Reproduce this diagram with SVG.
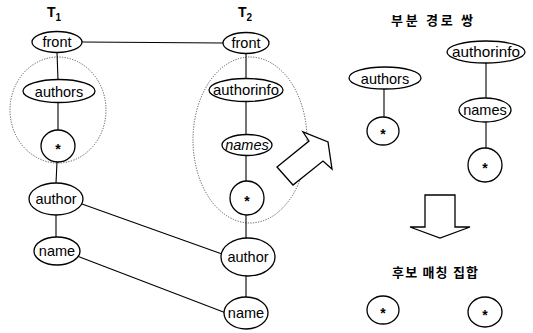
<svg xmlns="http://www.w3.org/2000/svg" width="533" height="333" viewBox="0 0 533 333">
<style>
.n{fill:#fff;stroke:#000;stroke-width:1.3}
.t{font-family:"Liberation Sans",Arial,sans-serif;font-size:14.5px;fill:#000;text-anchor:middle}
.s{font-family:"Liberation Sans",Arial,sans-serif;font-size:14px;font-weight:bold;fill:#000;text-anchor:middle}
.k{font-family:"Noto Sans CJK KR",sans-serif;font-size:13px;font-weight:bold;fill:#000;text-anchor:middle}
.c line{stroke:#000;stroke-width:1.1}
.d{fill:none;stroke:#555;stroke-width:1;stroke-dasharray:1.2 1.4}
.b{fill:#fff;stroke:#000;stroke-width:1.3;stroke-linejoin:miter}
</style>
<rect width="533" height="333" fill="#fff"/>
<g id="labels">
<text x="54" y="17" font-family="Liberation Sans,Arial,sans-serif" font-size="14" font-weight="bold" text-anchor="middle">T<tspan font-size="10" dy="4">1</tspan></text>
<text x="245" y="17" font-family="Liberation Sans,Arial,sans-serif" font-size="14" font-weight="bold" text-anchor="middle">T<tspan font-size="10" dy="4">2</tspan></text>
<text class="k" x="432" y="25" textLength="82" lengthAdjust="spacing">부분 경로 쌍</text>
<text class="k" x="435" y="277" textLength="86" lengthAdjust="spacing">후보 매칭 집합</text>
</g>
<g id="groups">
<ellipse class="d" cx="58" cy="110" rx="48" ry="53"/>
<ellipse class="d" cx="250" cy="140" rx="57" ry="83"/>
</g>
<g class="c" id="connectors">
<line x1="82" y1="42" x2="223" y2="43"/>
<line x1="57" y1="52" x2="58" y2="80"/>
<line x1="58" y1="102" x2="58" y2="130"/>
<line x1="57" y1="162" x2="56" y2="183"/>
<line x1="56" y1="215" x2="56" y2="237"/>
<line x1="82" y1="204" x2="222" y2="254"/>
<line x1="77" y1="256" x2="226" y2="313"/>
<line x1="246" y1="53" x2="246" y2="79"/>
<line x1="246" y1="101" x2="246" y2="135"/>
<line x1="246" y1="155" x2="246" y2="181"/>
<line x1="246" y1="215" x2="246" y2="238"/>
<line x1="246" y1="276" x2="246" y2="297"/>
<line x1="384" y1="89" x2="384" y2="117"/>
<line x1="486" y1="63" x2="486" y2="98"/>
<line x1="486" y1="122" x2="486" y2="148"/>
</g>
<g id="t1-front"><ellipse class="n" cx="57" cy="42" rx="25" ry="10.5"/><text class="t" x="57" y="47">front</text></g>
<g id="t1-authors"><ellipse class="n" cx="59" cy="91" rx="36" ry="11.5"/><text class="t" x="59" y="96.5" font-size="16">authors</text></g>
<g id="t1-star"><ellipse class="n" cx="58" cy="146" rx="17" ry="16"/><text class="s" x="58" y="154">*</text></g>
<g id="t1-author"><ellipse class="n" cx="56" cy="199" rx="27" ry="16"/><text class="t" x="56" y="204">author</text></g>
<g id="t1-name"><ellipse class="n" cx="57" cy="251" rx="23" ry="14"/><text class="t" x="57" y="256">name</text></g>
<g id="t2-front"><ellipse class="n" cx="246" cy="43" rx="23" ry="10.5"/><text class="t" x="246" y="48">front</text></g>
<g id="t2-authorinfo"><ellipse class="n" cx="246" cy="90" rx="37" ry="11.5"/><text class="t" x="246" y="95" textLength="66" lengthAdjust="spacingAndGlyphs">authorinfo</text></g>
<g id="t2-names"><ellipse class="n" cx="247" cy="145" rx="25" ry="10.5"/><text class="t" x="247" y="150" font-style="italic">names</text></g>
<g id="t2-star"><ellipse class="n" cx="247" cy="198" rx="17" ry="17"/><text class="s" x="247" y="206">*</text></g>
<g id="t2-author"><ellipse class="n" cx="248" cy="257" rx="27" ry="19"/><text class="t" x="248" y="262">author</text></g>
<g id="t2-name"><ellipse class="n" cx="246" cy="313" rx="22" ry="16"/><text class="t" x="246" y="318">name</text></g>
<g id="arrow-diag"><polygon class="b" points="277,167 309,141 303,132 328,142 332,169 323,161 293,185"/></g>
<g id="p-authors"><ellipse class="n" cx="385" cy="78" rx="36" ry="11"/><text class="t" x="385" y="83.5" font-size="16">authors</text></g>
<g id="p-star1"><ellipse class="n" cx="383" cy="131" rx="16" ry="14"/><text class="s" x="383" y="139">*</text></g>
<g id="p-authorinfo"><ellipse class="n" cx="486" cy="52" rx="39" ry="11"/><text class="t" x="486" y="57" textLength="68" lengthAdjust="spacingAndGlyphs">authorinfo</text></g>
<g id="p-names"><ellipse class="n" cx="485" cy="110" rx="26" ry="12"/><text class="t" x="485" y="115">names</text></g>
<g id="p-star2"><ellipse class="n" cx="485" cy="165" rx="17" ry="17"/><text class="s" x="485" y="173">*</text></g>
<g id="arrow-down"><polygon class="b" points="425,195 455,195 455,227 470,227 440,238 410,227 425,227"/></g>
<g id="c-star1"><ellipse class="n" cx="383" cy="310" rx="16" ry="14"/><text class="s" x="383" y="318">*</text></g>
<g id="c-star2"><ellipse class="n" cx="485" cy="312" rx="17" ry="15"/><text class="s" x="485" y="320">*</text></g>
</svg>
